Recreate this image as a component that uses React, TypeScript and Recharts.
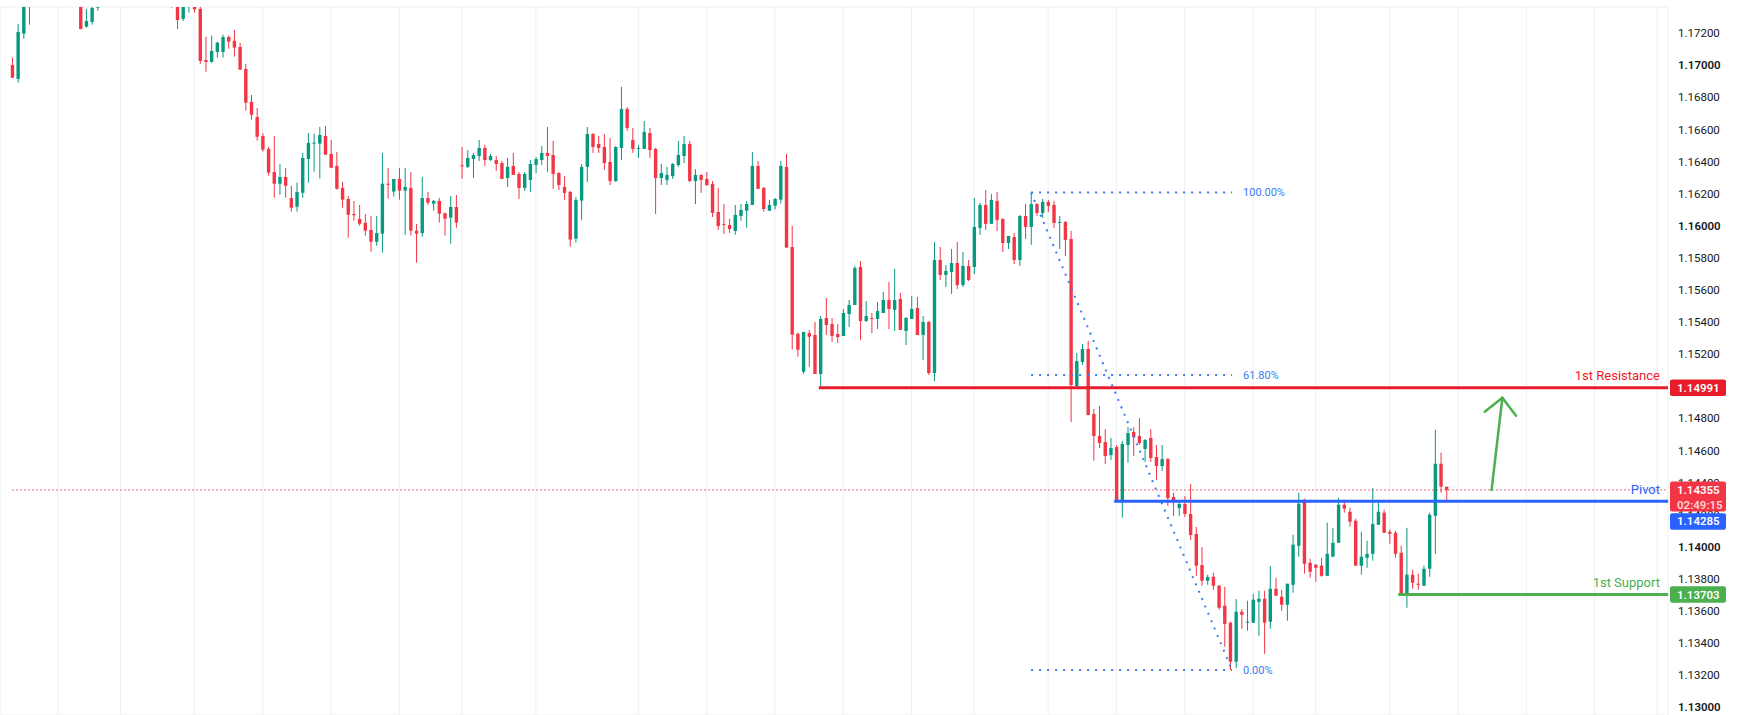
import React from "react";
import { Bar, CartesianGrid, ComposedChart, ReferenceLine, XAxis, YAxis } from "recharts";

// EUR/USD style candles, one entry per bar (oldest first)
const opens = [
  1.17002, 1.16915, 1.17197, 1.17420, 1.17480, 1.17510, 1.17490, 1.17525, 1.17550, 1.17530,
  1.17490, 1.17460, 1.17440, 1.17241, 1.17270, 1.17359, 1.17380, 1.17410, 1.17445, 1.17430,
  1.17460, 1.17495, 1.17470, 1.17440, 1.17465, 1.17450, 1.17420, 1.17435, 1.17400, 1.17410,
  1.17289, 1.17380, 1.17380, 1.17351, 1.17033, 1.17021, 1.17083, 1.17083, 1.17176, 1.17152,
  1.17114, 1.16977, 1.16772, 1.16678, 1.16560, 1.16479, 1.16335, 1.16262, 1.16304, 1.16173,
  1.16119, 1.16206, 1.16416, 1.16512, 1.16512, 1.16560, 1.16448, 1.16373, 1.16236, 1.16167,
  1.16074, 1.16043, 1.16018, 1.15974, 1.15901, 1.15951, 1.16262, 1.16213, 1.16292, 1.16219,
  1.16236, 1.15970, 1.15955, 1.16173, 1.16138, 1.16155, 1.16078, 1.16051, 1.16117, 1.16377,
  1.16367, 1.16416, 1.16435, 1.16485, 1.16410, 1.16410, 1.16391, 1.16298, 1.16373, 1.16323,
  1.16236, 1.16286, 1.16379, 1.16410, 1.16454, 1.16441, 1.16329, 1.16242, 1.16211, 1.15920,
  1.16157, 1.16367, 1.16572, 1.16510, 1.16491, 1.16398, 1.16279, 1.16485, 1.16728, 1.16535,
  1.16479, 1.16479, 1.16578, 1.16479, 1.16298, 1.16286, 1.16310, 1.16379, 1.16435, 1.16510,
  1.16279, 1.16317, 1.16292, 1.16261, 1.16086, 1.16012, 1.16005, 1.15968, 1.16061, 1.16094,
  1.16130, 1.16373, 1.16236, 1.16094, 1.16125, 1.16163, 1.16367, 1.15868, 1.15328, 1.15091,
  1.15332, 1.15320, 1.15077, 1.15426, 1.15388, 1.15326, 1.15314, 1.15451, 1.15507, 1.15744,
  1.15407, 1.15426, 1.15420, 1.15457, 1.15538, 1.15476, 1.15544, 1.15345, 1.15420, 1.15488,
  1.15320, 1.15401, 1.15083, 1.15787, 1.15694, 1.15712, 1.15768, 1.15631, 1.15750, 1.15744,
  1.15987, 1.16130, 1.16012, 1.16155, 1.16043, 1.15893, 1.15930, 1.15787, 1.16061, 1.15993,
  1.16136, 1.16080, 1.16149, 1.16130, 1.16018, 1.16024, 1.15918, 1.15002, 1.15152, 1.15233,
  1.14828, 1.14691, 1.14653, 1.14572, 1.14622, 1.14285, 1.14635, 1.14716, 1.14691, 1.14610,
  1.14678, 1.14560, 1.14504, 1.14547, 1.14311, 1.14242, 1.14267, 1.14205, 1.14080, 1.13887,
  1.13789, 1.13814, 1.13758, 1.13634, 1.13528, 1.13285, 1.13596, 1.13528, 1.13528, 1.13658,
  1.13677, 1.13534, 1.13739, 1.13690, 1.13640, 1.13764, 1.14007, 1.14294, 1.13901, 1.13889,
  1.13883, 1.13820, 1.13939, 1.14026, 1.14263, 1.14219, 1.14163, 1.13883, 1.13932, 1.13957,
  1.14138, 1.14213, 1.14094, 1.14088, 1.13964, 1.13702, 1.13827, 1.13771, 1.13758, 1.13864,
  1.14194, 1.14518, 1.14375,
];

const highs = [
  1.17048, 1.17258, 1.17440, 1.17510, 1.17530, 1.17560, 1.17540, 1.17580, 1.17590, 1.17560,
  1.17520, 1.17500, 1.17460, 1.17351, 1.17370, 1.17400, 1.17420, 1.17460, 1.17480, 1.17470,
  1.17510, 1.17520, 1.17490, 1.17475, 1.17500, 1.17470, 1.17450, 1.17460, 1.17440, 1.17430,
  1.17410, 1.17420, 1.17395, 1.17370, 1.17178, 1.17185, 1.17147, 1.17191, 1.17185, 1.17220,
  1.17139, 1.17008, 1.16815, 1.16734, 1.16577, 1.16493, 1.16560, 1.16385, 1.16360, 1.16250,
  1.16269, 1.16454, 1.16578, 1.16574, 1.16616, 1.16622, 1.16535, 1.16460, 1.16273, 1.16186,
  1.16155, 1.16130, 1.16074, 1.16063, 1.16061, 1.16454, 1.16360, 1.16292, 1.16360, 1.16360,
  1.16335, 1.16012, 1.16304, 1.16211, 1.16161, 1.16173, 1.16082, 1.16186, 1.16192, 1.16491,
  1.16472, 1.16454, 1.16535, 1.16504, 1.16448, 1.16435, 1.16404, 1.16423, 1.16454, 1.16335,
  1.16335, 1.16410, 1.16429, 1.16497, 1.16616, 1.16529, 1.16335, 1.16310, 1.16217, 1.16180,
  1.16385, 1.16616, 1.16578, 1.16560, 1.16572, 1.16547, 1.16497, 1.16865, 1.16740, 1.16610,
  1.16504, 1.16653, 1.16610, 1.16485, 1.16385, 1.16367, 1.16391, 1.16529, 1.16560, 1.16529,
  1.16354, 1.16320, 1.16335, 1.16279, 1.16236, 1.16136, 1.16043, 1.16130, 1.16136, 1.16155,
  1.16460, 1.16404, 1.16242, 1.16161, 1.16173, 1.16404, 1.16448, 1.15999, 1.15334, 1.15339,
  1.15351, 1.15401, 1.15438, 1.15550, 1.15426, 1.15388, 1.15482, 1.15538, 1.15750, 1.15781,
  1.15532, 1.15457, 1.15525, 1.15588, 1.15650, 1.15731, 1.15582, 1.15432, 1.15563, 1.15557,
  1.15438, 1.15407, 1.15899, 1.15868, 1.15756, 1.15856, 1.15899, 1.15837, 1.15787, 1.16173,
  1.16142, 1.16223, 1.16198, 1.16211, 1.16046, 1.15937, 1.15955, 1.16068, 1.16136, 1.16207,
  1.16142, 1.16167, 1.16161, 1.16155, 1.16061, 1.16030, 1.15968, 1.15208, 1.15264, 1.15283,
  1.14859, 1.14878, 1.14734, 1.14678, 1.14635, 1.14660, 1.14747, 1.14747, 1.14803, 1.14672,
  1.14734, 1.14635, 1.14635, 1.14554, 1.14336, 1.14285, 1.14317, 1.14392, 1.14124, 1.13999,
  1.13827, 1.13839, 1.13764, 1.13752, 1.13534, 1.13675, 1.13613, 1.13665, 1.13706, 1.13727,
  1.13727, 1.13881, 1.13808, 1.13733, 1.13771, 1.14076, 1.14338, 1.14300, 1.13926, 1.13895,
  1.13932, 1.14151, 1.14119, 1.14304, 1.14294, 1.14244, 1.14175, 1.14094, 1.14038, 1.14367,
  1.14275, 1.14232, 1.14107, 1.14101, 1.14007, 1.14119, 1.13858, 1.13833, 1.13883, 1.14213,
  1.14730, 1.14587, 1.14375,
];

const lows = [
  1.16921, 1.16892, 1.17164, 1.17253, 1.17440, 1.17470, 1.17450, 1.17500, 1.17510, 1.17470,
  1.17440, 1.17420, 1.17224, 1.17234, 1.17253, 1.17340, 1.17372, 1.17395, 1.17420, 1.17400,
  1.17440, 1.17450, 1.17420, 1.17410, 1.17430, 1.17400, 1.17390, 1.17395, 1.17359, 1.17226,
  1.17276, 1.17328, 1.17328, 1.17008, 1.16960, 1.17016, 1.17048, 1.17048, 1.17104, 1.17054,
  1.16973, 1.16717, 1.16661, 1.16530, 1.16462, 1.16312, 1.16175, 1.16194, 1.16175, 1.16088,
  1.16088, 1.16175, 1.16269, 1.16337, 1.16294, 1.16443, 1.16362, 1.16225, 1.16113, 1.15926,
  1.16032, 1.16001, 1.15939, 1.15839, 1.15876, 1.15833, 1.16169, 1.16182, 1.16163, 1.15945,
  1.15939, 1.15770, 1.15932, 1.16132, 1.16094, 1.16020, 1.15939, 1.15889, 1.15988, 1.16292,
  1.16360, 1.16298, 1.16404, 1.16373, 1.16404, 1.16342, 1.16292, 1.16242, 1.16317, 1.16167,
  1.16217, 1.16211, 1.16329, 1.16379, 1.16335, 1.16230, 1.16223, 1.16161, 1.15870, 1.15895,
  1.16038, 1.16273, 1.16454, 1.16454, 1.16348, 1.16254, 1.16273, 1.16410, 1.16591, 1.16454,
  1.16423, 1.16479, 1.16423, 1.16074, 1.16254, 1.16254, 1.16292, 1.16367, 1.16391, 1.16273,
  1.16136, 1.16205, 1.16248, 1.16055, 1.15974, 1.15949, 1.15955, 1.15945, 1.16032, 1.15988,
  1.16130, 1.16230, 1.16088, 1.16094, 1.16101, 1.16138, 1.15864, 1.15228, 1.15185, 1.15077,
  1.15122, 1.15077, 1.14991, 1.15320, 1.15276, 1.15270, 1.15314, 1.15370, 1.15507, 1.15289,
  1.15401, 1.15332, 1.15357, 1.15457, 1.15357, 1.15345, 1.15351, 1.15258, 1.15420, 1.15320,
  1.15164, 1.15071, 1.15033, 1.15663, 1.15619, 1.15575, 1.15606, 1.15619, 1.15656, 1.15700,
  1.15943, 1.15974, 1.16012, 1.15968, 1.15837, 1.15856, 1.15762, 1.15750, 1.15918, 1.15881,
  1.16061, 1.16049, 1.16086, 1.15987, 1.15856, 1.15812, 1.14778, 1.14998, 1.15133, 1.14821,
  1.14537, 1.14616, 1.14516, 1.14541, 1.14279, 1.14182, 1.14524, 1.14566, 1.14635, 1.14529,
  1.14529, 1.14417, 1.14473, 1.14255, 1.14192, 1.14192, 1.14186, 1.14043, 1.13820, 1.13758,
  1.13764, 1.13733, 1.13609, 1.13378, 1.13233, 1.13245, 1.13490, 1.13478, 1.13528, 1.13447,
  1.13334, 1.13490, 1.13696, 1.13602, 1.13540, 1.13715, 1.13939, 1.13833, 1.13808, 1.13783,
  1.13814, 1.13820, 1.13939, 1.14026, 1.14213, 1.14126, 1.13883, 1.13827, 1.13870, 1.13914,
  1.14138, 1.14088, 1.14020, 1.13932, 1.13700, 1.13621, 1.13739, 1.13733, 1.13758, 1.13814,
  1.13957, 1.14338, 1.14288,
];

const closes = [
  1.16923, 1.17208, 1.17410, 1.17480, 1.17510, 1.17490, 1.17525, 1.17550, 1.17530, 1.17490,
  1.17460, 1.17440, 1.17226, 1.17276, 1.17357, 1.17380, 1.17410, 1.17445, 1.17430, 1.17460,
  1.17495, 1.17470, 1.17440, 1.17465, 1.17450, 1.17420, 1.17435, 1.17410, 1.17420, 1.17282,
  1.17390, 1.17400, 1.17349, 1.17027, 1.17021, 1.17089, 1.17141, 1.17176, 1.17147, 1.17110,
  1.16973, 1.16767, 1.16692, 1.16555, 1.16474, 1.16331, 1.16262, 1.16304, 1.16250, 1.16113,
  1.16211, 1.16423, 1.16516, 1.16518, 1.16566, 1.16443, 1.16362, 1.16231, 1.16163, 1.16069,
  1.16066, 1.16013, 1.15970, 1.15901, 1.15955, 1.16262, 1.16256, 1.16292, 1.16219, 1.16242,
  1.15970, 1.15951, 1.16173, 1.16144, 1.16155, 1.16076, 1.16044, 1.16117, 1.16020, 1.16373,
  1.16423, 1.16441, 1.16485, 1.16410, 1.16435, 1.16385, 1.16292, 1.16367, 1.16317, 1.16236,
  1.16323, 1.16385, 1.16416, 1.16454, 1.16435, 1.16323, 1.16254, 1.16205, 1.15914, 1.16161,
  1.16367, 1.16572, 1.16491, 1.16485, 1.16391, 1.16279, 1.16491, 1.16728, 1.16610, 1.16479,
  1.16485, 1.16585, 1.16472, 1.16298, 1.16329, 1.16317, 1.16385, 1.16441, 1.16510, 1.16279,
  1.16317, 1.16286, 1.16254, 1.16080, 1.15999, 1.16007, 1.15980, 1.16068, 1.16099, 1.16136,
  1.16373, 1.16230, 1.16105, 1.16130, 1.16167, 1.16373, 1.15864, 1.15322, 1.15228, 1.15339,
  1.15309, 1.15077, 1.15420, 1.15382, 1.15314, 1.15307, 1.15457, 1.15507, 1.15737, 1.15407,
  1.15438, 1.15420, 1.15469, 1.15538, 1.15482, 1.15538, 1.15351, 1.15426, 1.15482, 1.15320,
  1.15401, 1.15083, 1.15787, 1.15694, 1.15719, 1.15768, 1.15631, 1.15750, 1.15663, 1.15993,
  1.16130, 1.16012, 1.16161, 1.16036, 1.15893, 1.15937, 1.15787, 1.16061, 1.15993, 1.16136,
  1.16080, 1.16149, 1.16124, 1.16018, 1.16024, 1.15912, 1.15008, 1.15158, 1.15233, 1.14821,
  1.14691, 1.14647, 1.14566, 1.14616, 1.14285, 1.14641, 1.14709, 1.14684, 1.14647, 1.14666,
  1.14554, 1.14504, 1.14547, 1.14304, 1.14285, 1.14267, 1.14205, 1.14074, 1.13883, 1.13789,
  1.13812, 1.13758, 1.13621, 1.13521, 1.13285, 1.13596, 1.13577, 1.13534, 1.13671, 1.13677,
  1.13528, 1.13739, 1.13696, 1.13640, 1.13771, 1.14014, 1.14269, 1.13895, 1.13845, 1.13870,
  1.13820, 1.13957, 1.14026, 1.14263, 1.14238, 1.14157, 1.13883, 1.13939, 1.13957, 1.14142,
  1.14219, 1.14088, 1.14082, 1.13957, 1.13706, 1.13827, 1.13777, 1.13764, 1.13864, 1.14200,
  1.14518, 1.14375, 1.14355,
];

// bar index where each new session starts (vertical grid)
const sessionStarts = [8, 19, 32, 44, 56, 68, 79, 92, 110, 122, 134, 146, 158, 169, 182, 194, 206, 218, 229, 242, 254, 266, 278, 289];

const priceTicks = [
  1.130, 1.132, 1.134, 1.136, 1.138, 1.140, 1.142, 1.144, 1.146, 1.148, 1.150,
  1.152, 1.154, 1.156, 1.158, 1.160, 1.162, 1.164, 1.166, 1.168, 1.170, 1.172,
];

const resistance = 1.14991;
const pivot = 1.14285;
const support = 1.13703;
const lastPrice = 1.14355;
const countdown = "02:49:15";

const resistanceFrom = 141.7;
const pivotFrom = 193.6;
const supportFrom = 243.5;

const fibHigh = 1.16207;
const fibLow = 1.13233;
const fibFrom = 179;
const fibTo = 214.3;
const fibLevels = [1, 0.618, 0];
const fibLabels = ["100.00%", "61.80%", "0.00%"];

const arrowTail = { x: 259.9, y: 1.14354 };
const arrowTip = { x: 261.8, y: 1.14929 };
const arrowLeft = { x: 258.7, y: 1.14842 };
const arrowRight = { x: 264.2, y: 1.14817 };

const X_MIN = -2.16;
const X_MAX = 290.9;
const Y_MIN = 1.12953;
const Y_MAX = 1.17363;

const UP = "#089981";
const DOWN = "#f23645";
const RES_RED = "#e91c2b";
const PIVOT_BLUE = "#2962ff";
const SUP_GREEN = "#4caf50";
const FIB_BLUE = "#3b7cf6";
const FONT = "Roboto, 'Liberation Sans', sans-serif";

const rows = opens.map((o, i) => ({
  i,
  open: o,
  high: highs[i],
  low: lows[i],
  close: closes[i],
  range: [lows[i], highs[i]],
}));

function Candle(props: any) {
  const { x, y, width, height, payload } = props;
  if (!payload || height == null || isNaN(y)) return null;
  const { open, close, high, low } = payload;
  const top = Math.min(y, y + height);
  const h = Math.abs(height);
  const cx = x + width / 2;
  const k = h / (high - low);
  const bodyTop = top + (high - Math.max(open, close)) * k;
  const bodyBot = top + (high - Math.min(open, close)) * k;
  const color = close >= open ? UP : DOWN;
  return (
    <g>
      <line x1={cx} x2={cx} y1={top} y2={top + h} stroke={color} strokeWidth={1} />
      <rect x={cx - 1.7} y={bodyTop} width={3.4} height={Math.max(bodyBot - bodyTop, 1)} fill={color} />
    </g>
  );
}

// price scale text, drawn as a label of an invisible level line so the tags can sit on top
function TickLabel(props: any) {
  const { viewBox, value } = props;
  if (!viewBox) return null;
  const round = Math.abs(value * 100 - Math.round(value * 100)) < 1e-6;
  return (
    <text
      x={viewBox.x + viewBox.width + 10}
      y={viewBox.y}
      dy="0.35em"
      fill="#131722"
      fontSize={11.5}
      fontWeight={round ? 600 : 400}
      fontFamily={FONT}
    >
      {value.toFixed(5)}
    </text>
  );
}

function LevelLabel(props: any) {
  const { viewBox, text, color, boxColor, price, shift = 0, extra } = props;
  if (!viewBox) return null;
  const right = viewBox.x + viewBox.width;
  const y = viewBox.y;
  const top = y - 8.3 + shift;
  return (
    <g>
      {text && (
        <text x={right - 8} y={y - 12} dy="0.35em" textAnchor="end" fill={color} fontSize={13} fontFamily={FONT}>
          {text}
        </text>
      )}
      <rect x={right + 2} y={top} width={56} height={extra ? 30 : 16.5} rx={2} fill={boxColor} />
      <text x={right + 9} y={top + 8.3} dy="0.35em" fill="#ffffff" fontSize={11.5} fontWeight={600} fontFamily={FONT}>
        {price.toFixed(5)}
      </text>
      {extra && (
        <text x={right + 9} y={top + 23.5} dy="0.35em" fill="rgba(255,255,255,0.8)" fontSize={11.5} fontWeight={600} fontFamily={FONT}>
          {extra}
        </text>
      )}
    </g>
  );
}

function FibLabel(props: any) {
  const { viewBox, text } = props;
  if (!viewBox) return null;
  return (
    <text x={viewBox.x + viewBox.width + 11} y={viewBox.y} dy="0.35em" fill={FIB_BLUE} fontSize={11} fontFamily={FONT}>
      {text}
    </text>
  );
}

export default function App() {
  const fibPrice = (lvl: number) => fibLow + (fibHigh - fibLow) * lvl;
  return (
    <div style={{ position: "absolute", left: 0, top: 0, width: 1737, height: 715, background: "#ffffff" }}>
      <ComposedChart width={1737} height={715} data={rows} margin={{ top: 7, right: 0, bottom: 0, left: 0 }}>
        <CartesianGrid stroke="#eeeff2" />
        <XAxis type="number" dataKey="i" domain={[X_MIN, X_MAX]} ticks={sessionStarts} allowDataOverflow hide />
        <YAxis
          orientation="right"
          type="number"
          domain={[Y_MIN, Y_MAX]}
          ticks={priceTicks}
          interval={0}
          allowDataOverflow
          width={69}
          axisLine={false}
          tickLine={false}
          tick={false}
        />
        <Bar dataKey="range" shape={(p: any) => <Candle {...p} />} barSize={4} isAnimationActive={false} />

        {priceTicks.map((t) => (
          <ReferenceLine key={t} y={t} stroke="none" ifOverflow="visible" label={<TickLabel value={t} />} />
        ))}

        {fibLevels.map((lvl, k) => (
          <ReferenceLine
            key={lvl}
            segment={[{ x: fibFrom, y: fibPrice(lvl) }, { x: fibTo, y: fibPrice(lvl) }]}
            stroke={FIB_BLUE}
            strokeWidth={2}
            strokeDasharray="2 6"
            ifOverflow="visible"
            label={<FibLabel text={fibLabels[k]} />}
          />
        ))}
        <ReferenceLine
          segment={[{ x: fibFrom, y: fibHigh }, { x: fibTo, y: fibLow }]}
          stroke={FIB_BLUE}
          strokeWidth={2}
          strokeDasharray="2 6"
          ifOverflow="visible"
        />

        <ReferenceLine
          segment={[{ x: 0, y: lastPrice }, { x: X_MAX, y: lastPrice }]}
          stroke={DOWN}
          strokeWidth={1}
          strokeDasharray="1.5 2.5"
          ifOverflow="visible"
        />
        <ReferenceLine
          segment={[{ x: resistanceFrom, y: resistance }, { x: X_MAX, y: resistance }]}
          stroke={RES_RED}
          strokeWidth={3}
          ifOverflow="visible"
          label={<LevelLabel text="1st Resistance" color={RES_RED} boxColor={RES_RED} price={resistance} />}
        />
        <ReferenceLine
          segment={[{ x: pivotFrom, y: pivot }, { x: X_MAX, y: pivot }]}
          stroke={PIVOT_BLUE}
          strokeWidth={3}
          ifOverflow="visible"
          label={<LevelLabel text="Pivot" color={PIVOT_BLUE} boxColor={PIVOT_BLUE} price={pivot} shift={20.3} />}
        />
        <ReferenceLine
          segment={[{ x: supportFrom, y: support }, { x: X_MAX, y: support }]}
          stroke={SUP_GREEN}
          strokeWidth={3}
          ifOverflow="visible"
          label={<LevelLabel text="1st Support" color={SUP_GREEN} boxColor={SUP_GREEN} price={support} />}
        />
        <ReferenceLine
          segment={[{ x: 0, y: lastPrice }, { x: X_MAX, y: lastPrice }]}
          stroke="none"
          ifOverflow="visible"
          label={<LevelLabel boxColor={DOWN} price={lastPrice} extra={countdown} />}
        />

        <ReferenceLine segment={[arrowTail, arrowTip]} stroke={SUP_GREEN} strokeWidth={2.5} strokeLinecap="round" ifOverflow="visible" />
        <ReferenceLine segment={[arrowLeft, arrowTip]} stroke={SUP_GREEN} strokeWidth={2.5} strokeLinecap="round" ifOverflow="visible" />
        <ReferenceLine segment={[arrowTip, arrowRight]} stroke={SUP_GREEN} strokeWidth={2.5} strokeLinecap="round" ifOverflow="visible" />
      </ComposedChart>
    </div>
  );
}
